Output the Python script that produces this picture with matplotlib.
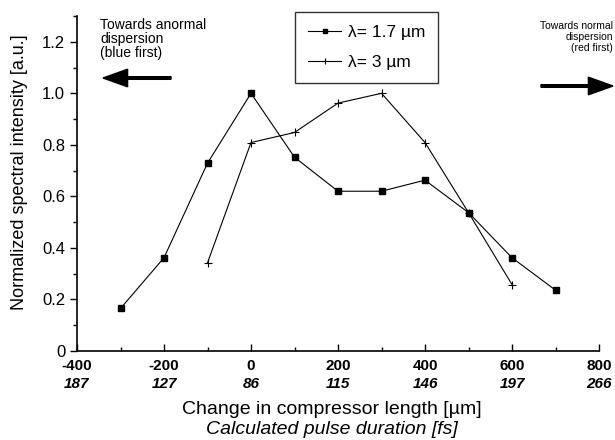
import matplotlib
matplotlib.use("Agg")
import matplotlib.pyplot as plt
from matplotlib.ticker import MultipleLocator

plt.rcParams["font.family"] = ["Liberation Sans", "DejaVu Sans"]

# ---- Data ----
x_17 = [-300, -200, -100, 0, 100, 200, 300, 400, 500, 600, 700]
y_17 = [0.165, 0.362, 0.729, 1.0, 0.752, 0.620, 0.620, 0.663, 0.537, 0.362, 0.236]

x_3 = [-100, 0, 100, 200, 300, 400, 500, 600]
y_3 = [0.342, 0.809, 0.848, 0.962, 1.0, 0.809, 0.537, 0.258]

length_ticks = [-400, -200, 0, 200, 400, 600, 800]
pulse_fs = ["187", "127", "86", "115", "146", "197", "266"]

# -----------------------------
# Figure / axes
# -----------------------------
fig = plt.figure(figsize=(6.15, 4.4), dpi=100)
ax = fig.add_axes([77 / 615, 1 - 351 / 440, 522 / 615, 335 / 440])

ax.plot(x_17, y_17, color="black", lw=0.8, marker="s", ms=4,
        label="λ= 1.7 µm")
ax.plot(x_3, y_3, color="black", lw=0.8, marker="+", ms=6, mew=0.8,
        label="λ= 3 µm")

ax.set_xlim(-400, 800)
ax.set_ylim(0, 1.3)

for s in ["top", "right"]:
    ax.spines[s].set_visible(False)
ax.spines["left"].set_linewidth(1.2)
ax.spines["bottom"].set_linewidth(1.2)

# ---- ticks ----
ax.xaxis.set_minor_locator(MultipleLocator(100))
ax.yaxis.set_minor_locator(MultipleLocator(0.1))
ax.tick_params(axis="x", which="both", direction="in", length=5, width=1)
ax.tick_params(axis="x", which="minor", length=3)
ax.tick_params(axis="y", which="both", direction="out", length=5, width=1,
               labelsize=12)
ax.tick_params(axis="y", which="minor", length=3)

ax.set_xticks(length_ticks)
ax.set_xticklabels([str(v) for v in length_ticks], fontweight="bold",
                   fontsize=11)
ax.tick_params(axis="x", pad=6)
ax.set_yticks([0, 0.2, 0.4, 0.6, 0.8, 1.0, 1.2])
ax.set_yticklabels(["0", "0.2", "0.4", "0.6", "0.8", "1.0", "1.2"])

# second row of tick labels: calculated pulse duration
for xv, lab in zip(length_ticks, pulse_fs):
    ax.annotate(lab, xy=(xv, 0), xycoords=("data", "axes fraction"),
                xytext=(0, -18.5), textcoords="offset points",
                ha="center", va="top", fontsize=11,
                fontweight="bold", fontstyle="italic")

# ---- axis labels ----
fig.text(332 / 615, 1 - 409 / 440, "Change in compressor length [µm]",
         ha="center", va="center", fontsize=14)
fig.text(332 / 615, 1 - 429 / 440, "Calculated pulse duration [fs]",
         ha="center", va="center", fontsize=14, fontstyle="italic")
fig.text(20 / 615, 1 - 172 / 440, "Normalized spectral intensity [a.u.]",
         ha="center", va="center", rotation=90, fontsize=13)

# -----------------------------
# Legend
# -----------------------------
leg = ax.legend(loc="upper left", bbox_to_anchor=(295 / 615, 1 - 12 / 440),
                bbox_transform=fig.transFigure, fontsize=12.5,
                fancybox=False, frameon=True, handlelength=1.9,
                labelspacing=0.85, borderpad=0.75, handletextpad=0.4,
                borderaxespad=0, markerscale=0.7)
leg.get_frame().set_edgecolor("black")
leg.get_frame().set_linewidth(1.0)

# -----------------------------
# Dispersion arrows and notes
# -----------------------------
fig.text(100 / 615, 1 - 18 / 440, "Towards anormal\ndispersion\n(blue first)",
         ha="left", va="top", fontsize=10, linespacing=1.0)
fig.text(613 / 615, 1 - 21 / 440, "Towards normal\ndispersion\n(red first)",
         ha="right", va="top", fontsize=7.5, linespacing=1.1)

fig.patches.append(matplotlib.patches.FancyArrow(
    171 / 615, 1 - 78 / 440, -68 / 615, 0, width=0.006,
    head_width=0.04, head_length=0.04, length_includes_head=True,
    color="black", transform=fig.transFigure, figure=fig))
fig.patches.append(matplotlib.patches.FancyArrow(
    541 / 615, 1 - 86 / 440, 72 / 615, 0, width=0.006,
    head_width=0.04, head_length=0.04, length_includes_head=True,
    color="black", transform=fig.transFigure, figure=fig))

fig.savefig("out.png", dpi=100)
